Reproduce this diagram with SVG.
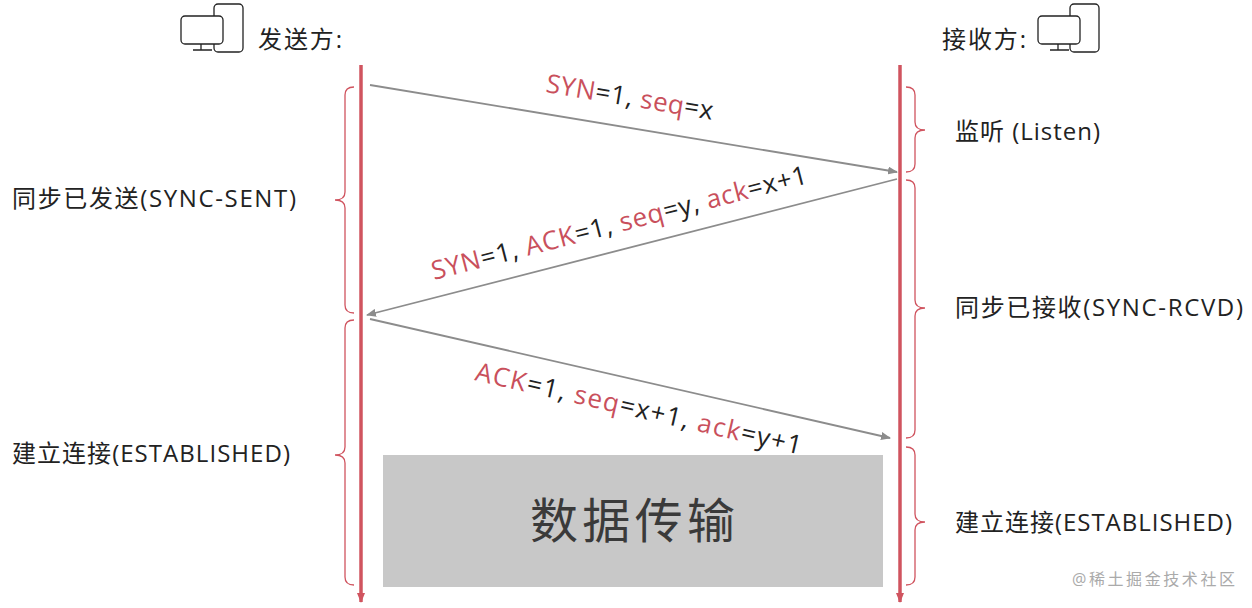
<svg xmlns="http://www.w3.org/2000/svg" width="1252" height="608" viewBox="0 0 1252 608">
<style>
text{font-family:"Open Sans","Noto Sans CJK SC",sans-serif;fill:#222}
.r{fill:#c9505c}
.life{stroke:#d0545f;stroke-width:3.5}
.msg{stroke:#8c8c8c;stroke-width:1.8;fill:none;marker-end:url(#ah)}
.br{stroke:#d0545f;stroke-width:1.3;fill:none}
.ico{stroke:#222;stroke-width:1.3;fill:#fff}
</style>
<defs>
<marker id="ah" markerWidth="10" markerHeight="8" refX="9" refY="4" orient="auto" markerUnits="userSpaceOnUse"><path d="M0,0 L10,4 L0,8 Z" fill="#8c8c8c"/></marker>
<marker id="la" markerWidth="10" markerHeight="8" refX="9" refY="4" orient="auto" markerUnits="userSpaceOnUse"><path d="M0,0 L10,4 L0,8 Z" fill="#d0545f"/></marker>
</defs>
<rect width="1252" height="608" fill="#fff"/>
<g id="sender">
<rect class="ico" x="214" y="4" width="29" height="48" rx="4"/>
<rect class="ico" x="181" y="16" width="42" height="28" rx="4"/>
<path class="ico" d="M201 44 V50 M193 50 H212"/>
<text x="258" y="48" font-size="24" textLength="84">发送方:</text>
</g>
<g id="receiver">
<rect class="ico" x="1070" y="4" width="29" height="48" rx="4"/>
<rect class="ico" x="1038" y="16" width="42" height="28" rx="4"/>
<path class="ico" d="M1058 44 V50 M1050 50 H1069"/>
<text x="942" y="48" font-size="24" textLength="84">接收方:</text>
</g>
<g id="lifelines">
<line class="life" x1="361" y1="65" x2="361" y2="602" marker-end="url(#la)"/>
<line class="life" x1="900" y1="65" x2="900" y2="602" marker-end="url(#la)"/>
</g>
<g id="connectors">
<line class="msg" x1="370" y1="85" x2="897" y2="172"/>
<line class="msg" x1="897" y1="179" x2="367" y2="315"/>
<line class="msg" x1="370" y1="319" x2="890" y2="438"/>
</g>
<g id="labels" font-size="26">
<text transform="translate(545,92) rotate(9.4)" textLength="169"><tspan class="r">SYN</tspan>=1, <tspan class="r">seq</tspan>=x</text>
<text transform="translate(434,280) rotate(-14.5)" textLength="387"><tspan class="r">SYN</tspan>=1, <tspan class="r">ACK</tspan>=1, <tspan class="r">seq</tspan>=y, <tspan class="r">ack</tspan>=x+1</text>
<text transform="translate(474,380) rotate(12.9)" textLength="334"><tspan class="r">ACK</tspan>=1, <tspan class="r">seq</tspan>=x+1, <tspan class="r">ack</tspan>=y+1</text>
</g>
<g id="braces">
<path class="br" d="M354 87 Q345 87 345 95 V192 Q345 200 335 200 Q345 200 345 208 V305 Q345 313 354 313"/>
<path class="br" d="M354 320 Q345 320 345 328 V447 Q345 455 335 455 Q345 455 345 463 V577 Q345 585 354 585"/>
<path class="br" d="M906 87 Q915 87 915 95 V122 Q915 130 925 130 Q915 130 915 138 V164 Q915 172 906 172"/>
<path class="br" d="M906 180 Q915 180 915 188 V300 Q915 308 925 308 Q915 308 915 316 V430 Q915 438 906 438"/>
<path class="br" d="M906 447 Q915 447 915 455 V514 Q915 522 925 522 Q915 522 915 530 V577 Q915 585 906 585"/>
</g>
<g id="states" font-size="24">
<text x="12" y="207" textLength="284">同步已发送(SYNC-SENT)</text>
<text x="12" y="462" textLength="278">建立连接(ESTABLISHED)</text>
<text x="955" y="140" textLength="145">监听 (Listen)</text>
<text x="955" y="316" textLength="288">同步已接收(SYNC-RCVD)</text>
<text x="955" y="531" textLength="277">建立连接(ESTABLISHED)</text>
</g>
<g id="transfer">
<rect x="383" y="455" width="500" height="132" fill="#c8c8c8"/>
<text x="530" y="538" font-size="48" textLength="205" style="fill:#3a3a3a">数据传输</text>
</g>
<text x="1072" y="585" font-size="16" textLength="163" style="fill:#aaa">@稀土掘金技术社区</text>
</svg>
